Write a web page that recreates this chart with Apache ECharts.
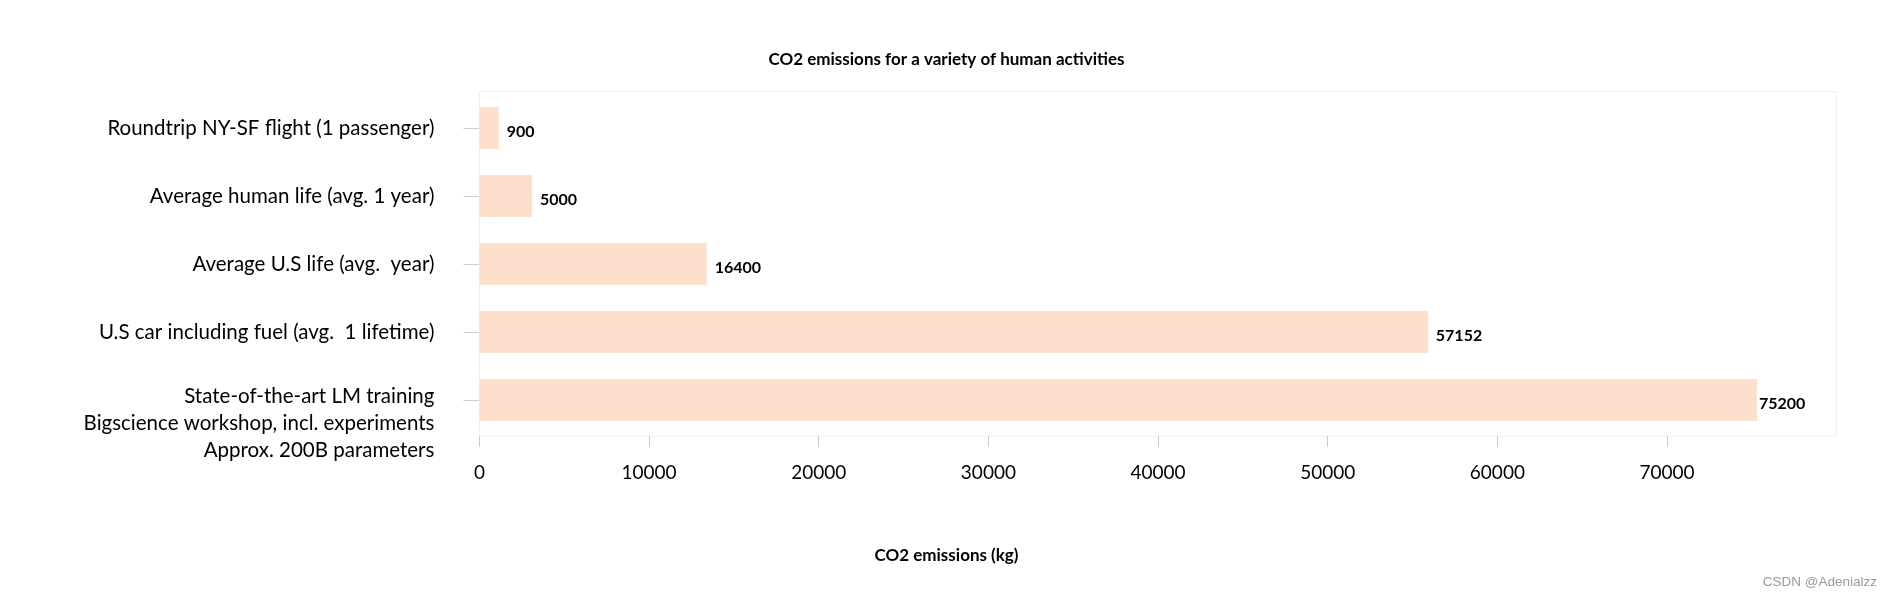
<!DOCTYPE html>
<html>
<head>
<meta charset="utf-8">
<script src="https://cdn.jsdelivr.net/npm/echarts@6/dist/echarts.min.js"></script>
<style>
html,body{margin:0;padding:0;background:#fff;}
#main{width:1893px;height:596px;}
</style>
</head>
<body>
<div id="main"></div>
<script>
// Categories (top to bottom)
var categories = [
  "Roundtrip NY-SF flight (1 passenger)",
  "Average human life (avg. 1 year)",
  "Average U.S life (avg.  year)",
  "U.S car including fuel (avg.  1 lifetime)",
  "State-of-the-art LM training\nBigscience workshop, incl. experiments\nApprox. 200B parameters"
];
// Bar lengths as drawn in the picture (kg CO2)
var barValues = [1140, 3100, 13400, 55900, 75300];
// Value labels printed next to bars
var labelValues = ["900", "5000", "16400", "57152", "75200"];
var xTicks = [0, 10000, 20000, 30000, 40000, 50000, 60000, 70000];

var FONT = "Lato";
var chart = echarts.init(document.getElementById('main'), null, {renderer: 'canvas'});

var seriesData = barValues.map(function (v, i) {
  var d = {value: v};
  if (i === barValues.length - 1) d.label = {distance: 2};
  return d;
});

var option = {
  backgroundColor: '#ffffff',
  animation: false,
  title: [
    {
      text: 'CO2 emissions for a variety of human activities',
      left: 'center', top: 45,
      textStyle: {fontFamily: FONT, fontSize: 17, fontWeight: 'bold', color: '#000', lineHeight: 20}
    },
    {
      text: 'CO2 emissions (kg)',
      left: 'center', top: 541,
      textStyle: {fontFamily: FONT, fontSize: 17, fontWeight: 'bold', color: '#000', lineHeight: 20}
    }
  ],
  graphic: [
    {
      type: 'rect', silent: true, z: 0,
      shape: {x: 479.5, y: 91.5, width: 1357, height: 344.5},
      style: {fill: 'none', stroke: '#eeeeee', lineWidth: 1}
    },
    {
      type: 'text', right: 16, top: 575,
      style: {text: 'CSDN @Adenialzz', fill: '#999999', font: '13.5px "Liberation Sans", Arial, sans-serif'}
    }
  ],
  grid: {left: 479.4, right: 56.3, top: 94, bottom: 162, containLabel: false},
  xAxis: {
    type: 'value',
    min: 0, max: 80000, interval: 10000,
    offset: 2,
    axisLine: {show: false},
    axisTick: {show: true, length: 11, lineStyle: {color: '#cccccc'}},
    splitLine: {show: false},
    axisLabel: {
      margin: 27, fontFamily: FONT, fontSize: 19, color: '#000',
      showMaxLabel: false,
      formatter: function (v) { return xTicks.indexOf(v) >= 0 ? String(v) : ''; }
    }
  },
  yAxis: {
    type: 'category',
    data: categories,
    inverse: true,
    axisLine: {show: false},
    axisTick: {show: true, alignWithLabel: true, interval: 0, length: 16, lineStyle: {color: '#cccccc'}},
    axisLabel: {
      interval: 0, margin: 45, fontFamily: FONT, fontSize: 20.5, color: '#000', align: 'right',
      formatter: function (v) {
        if (v.indexOf('\n') < 0) return v;
        return '{gap| }\n' + v.split('\n').map(function (l) { return '{t|' + l + '}'; }).join('\n');
      },
      rich: {
        gap: {lineHeight: 46, fontSize: 1},
        t: {lineHeight: 27, fontSize: 20.5, fontFamily: FONT, color: '#000'}
      }
    }
  },
  series: [{
    type: 'bar',
    data: seriesData,
    barWidth: 42,
    itemStyle: {color: '#fddfcb'},
    label: {
      show: true, position: 'right', distance: 8, offset: [0, 4],
      fontFamily: FONT, fontSize: 16, fontWeight: 'bold', color: '#000',
      formatter: function (p) { return labelValues[p.dataIndex]; }
    }
  }]
};
chart.setOption(option);
</script>
</body>
</html>
